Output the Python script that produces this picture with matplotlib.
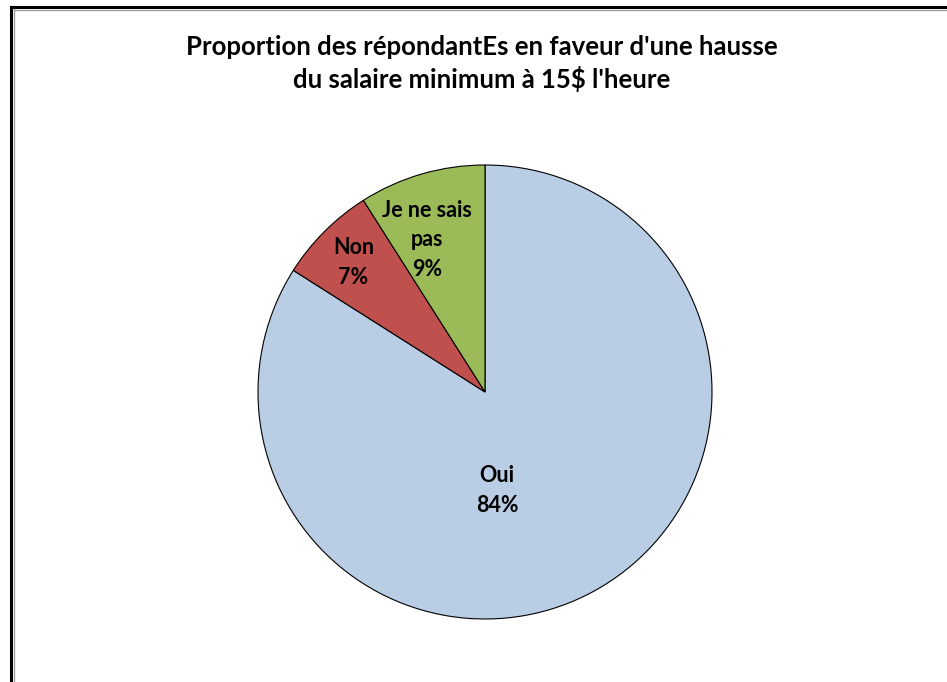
import matplotlib.pyplot as plt
from matplotlib.lines import Line2D

# Réponses au sondage, dans l'ordre horaire depuis midi
categories = ["Oui", "Non", "Je ne sais\npas"]
pourcentages = [84, 7, 9]
couleurs = ["#B9CDE5", "#C0504D", "#9BBB59"]

# position des étiquettes (coordonnées du cercle unité)
pos_etiquettes = [(0.053, -0.435), (-0.58, 0.57), (-0.255, 0.67)]

titre = "Proportion des répondantEs en faveur d'une hausse\ndu salaire minimum à 15$ l'heure"

plt.rcParams['font.family'] = ['Lato', 'DejaVu Sans']

W, H = 947, 682
fig = plt.figure(figsize=(W / 100, H / 100), dpi=100)

cx, cy, r = 485, 392, 227
ax = fig.add_axes([(cx - r) / W, (H - cy - r) / H, 2 * r / W, 2 * r / H])
wedges, _ = ax.pie(pourcentages, colors=couleurs, startangle=90, counterclock=False,
                   radius=1, wedgeprops=dict(edgecolor="black", linewidth=0.8))
ax.set_xlim(-1, 1)
ax.set_ylim(-1, 1)
ax.set_aspect("equal")
ax.axis("off")

for cat, pct, (x, y) in zip(categories, pourcentages, pos_etiquettes):
    ax.text(x, y, f"{cat}\n{pct}%", ha="center", va="center", fontsize=15.5,
            fontweight="bold", linespacing=1.5, color="black")

fig.text(482 / W, 1 - 63.5 / H, titre, ha="center", va="center", fontsize=18.5,
         fontweight="bold", linespacing=1.3)

# cadre du graphique (bord gauche et haut)
fig.add_artist(Line2D([10.5 / W, 10.5 / W], [0, 1 - 7 / H], color="black", lw=2.2))
fig.add_artist(Line2D([10.5 / W, 1], [1 - 7 / H, 1 - 7 / H], color="black", lw=2.2))
fig.add_artist(Line2D([13.5 / W, 13.5 / W], [0, 1 - 9 / H], color="#A0A0A0", lw=1))
fig.add_artist(Line2D([13.5 / W, 1], [1 - 9.5 / H, 1 - 9.5 / H], color="#A0A0A0", lw=1))

fig.savefig("out.png", dpi=100)
